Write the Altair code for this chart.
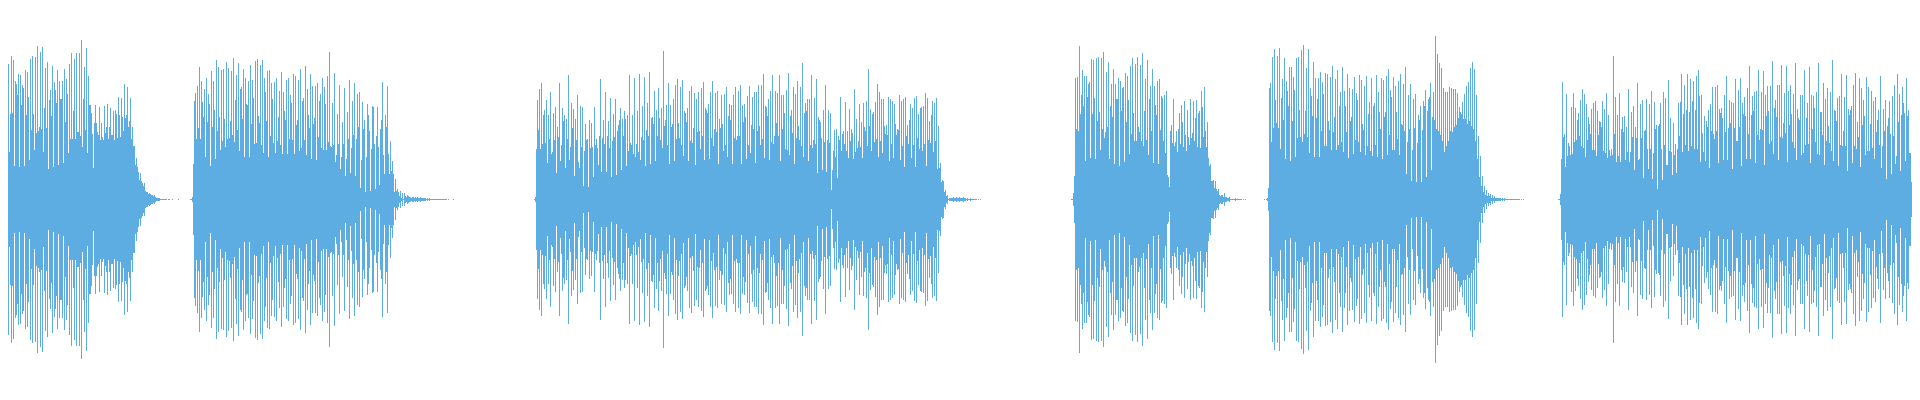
import altair as alt
import pandas as pd

# Half-height of the waveform, one value per pixel column.
starts = [0, 190, 534, 1071, 1264, 1558]

burst1 = [91,64,61,125,86,55,146,69,136,48,
86,144,87,140,34,119,116,105,126,33,
125,95,115,112,34,130,85,128,103,40,
141,70,144,86,50,143,67,154,69,73,
148,71,153,48,92,132,72,138,31,100,
110,84,134,33,118,110,97,130,35,119,
101,101,119,37,131,78,121,106,47,136,
61,147,61,89,141,61,147,68,68,147,
64,160,53,101,133,70,152,47,124,95,
95,87,66,32,77,95,77,68,65,93,
60,77,63,60,94,67,73,96,61,73,
92,65,65,89,60,90,86,62,103,85,
63,102,83,69,116,82,85,113,73,79,
102,61,73,54,54,35,42,33,28,20,
27,19,17,14,17,9,8,8,6,7,
6,5,5,4,5,3,2,2,2,2,
1,1,1,1,1,1,1,0,1,1,
0,0,1,0,0,0,0,0,1]

burst2 = [1,1,3,36,99,107,61,114,72,133,61,119,98,83,111,43,122,78,106,96,34,129,73,119,90,41,140,69,133,83,
50,130,59,131,81,53,138,61,132,62,79,129,65,142,58,100,125,70,137,49,111,113,81,131,43,122,96,95,119,43,
135,76,120,102,56,139,57,141,84,77,135,55,140,47,122,108,79,129,43,130,64,117,101,57,118,47,122,59,83,109,
55,128,46,108,89,80,120,46,122,61,105,97,60,126,46,124,75,80,120,49,131,52,99,102,60,134,45,111,85,72,
126,41,114,76,82,114,40,117,63,99,106,52,122,50,113,96,50,124,58,148,54,53,97,55,127,38,45,86,56,115,
31,43,78,56,112,24,41,88,61,120,27,52,99,65,117,24,61,106,73,108,12,40,98,71,80,8,43,96,85,69,
9,51,94,93,56,11,64,93,53,15,71,80,118,45,26,85,73,114,46,26,59,29,39,26,8,21,9,11,8,4,
9,2,7,1,7,4,3,5,4,3,3,2,3,3,2,3,2,3,2,2,3,2,2,2,2,2,1,2,1,2,
1,1,1,1,1,1,1,1,1,1,1,1,1,1,1,1,1,0,1,0,0,0,0,1]

burst3 = [1,3,51,100,70,111,51,117,56,85,90,57,100,37,85,61,108,46,48,87,60,93,27,73,63,117,39,55,92,79,
85,32,81,61,125,40,53,97,72,91,24,81,60,105,38,32,94,53,93,14,49,76,60,61,13,80,52,77,53,23,
93,55,61,52,35,64,121,28,62,80,56,108,28,64,79,52,102,23,59,86,63,101,25,69,75,80,92,30,81,64,
89,81,34,85,49,125,57,55,85,46,122,43,56,89,48,126,40,63,94,60,123,34,70,97,64,128,36,82,83,76,
109,39,90,64,112,82,60,92,52,149,74,80,95,55,117,36,95,73,76,101,39,115,61,121,77,62,113,55,120,44,
89,87,78,92,39,109,59,114,57,72,107,35,101,68,108,69,51,112,64,118,40,92,90,87,96,41,108,62,119,54,
71,107,68,109,36,81,72,105,76,49,106,55,113,43,84,96,80,95,36,105,62,113,60,64,109,64,115,36,95,78,
96,83,41,104,55,114,47,75,103,71,108,37,108,69,115,74,55,115,61,126,42,94,93,84,101,40,109,58,125,56,
64,109,77,107,64,125,39,105,71,105,87,51,110,50,127,45,84,90,67,113,36,106,62,119,74,60,113,54,137,43,
87,97,89,101,39,101,55,125,52,60,102,56,121,27,83,80,78,62,30,90,58,115,28,60,90,57,87,10,30,49,
70,43,71,22,64,60,103,49,66,69,56,98,49,69,42,91,59,71,67,41,111,48,81,52,59,96,53,78,42,97,
73,69,99,54,131,74,91,49,86,88,58,98,61,116,43,108,59,101,47,101,74,66,75,65,103,39,101,56,99,42,
96,76,65,71,70,105,40,99,54,101,33,103,64,75,56,80,96,42,92,55,102,33,104,62,86,51,92,93,49,94,
56,107,34,102,60,79,57,85,99,48,97,59,102,31,74,32,37,18,20,19,8,10,4,5,1,2,2,2,2,3,
2,2,3,2,2,3,2,2,2,3,2,2,1,2,1,1,2,1,1,1,1,1,1,0,1,0,1]

burst4 = [1,1,7,24,122,71,123,69,154,86,105,130,94,124,39,124,103,116,118,42,141,86,140,102,41,142,79,143,88,50,
142,71,148,62,68,128,73,138,41,94,116,83,131,36,116,101,101,122,34,119,89,112,113,38,127,78,124,100,46,134,
66,142,87,59,136,59,143,73,68,135,59,147,54,89,121,60,140,45,101,114,69,131,37,114,95,85,119,36,121,70,
104,102,59,105,47,109,25,23,13,69,75,57,101,54,58,69,48,71,87,56,95,78,53,99,65,49,90,63,55,101,
62,67,99,59,82,100,53,87,89,52,109,93,63,113,69,53,78,42,34,36,19,19,20,12,19,11,9,11,5,4,
5,5,3,7,3,3,2,2,3,1,1,1,1,1,2,1,1,1,1,1,1,0,1,0,1]

burst5 = [1,0,1,2,12,112,117,58,143,72,151,100,77,144,72,152,51,102,121,80,142,41,119,109,94,133,39,133,79,123,
110,43,142,62,143,90,63,150,58,155,66,89,132,63,151,47,112,104,84,138,43,122,82,101,122,43,128,69,118,106,
54,127,54,126,79,70,123,50,134,68,83,121,50,130,55,94,108,58,133,48,109,94,68,126,42,112,79,83,111,46,
123,60,107,100,58,125,48,120,76,70,114,45,124,54,86,98,49,122,44,94,97,55,125,43,108,88,71,122,41,120,
83,88,124,45,131,65,110,103,50,123,50,114,88,61,119,45,126,76,75,116,69,133,26,58,105,71,116,19,50,101,
72,106,18,57,85,80,94,18,70,99,94,110,23,89,101,103,117,30,83,108,80,164,71,146,69,137,65,132,59,112,
48,108,54,108,59,113,69,112,68,111,73,111,75,107,82,93,88,86,98,81,106,81,114,76,118,79,132,74,138,71,
131,59,105,41,64,23,44,14,24,8,14,5,10,4,7,4,6,2,5,2,4,2,2,2,2,2,2,1,2,1,
2,1,1,1,1,1,1,1,1,1,1,1,1,1,1,1,0,1,0,1]

burst6 = [1,1,6,41,118,63,66,33,106,44,57,54,45,93,46,107,58,92,60,80,87,64,100,54,111,52,106,43,96,60,
83,76,66,91,50,97,50,99,44,89,65,79,78,73,99,49,91,47,107,42,85,50,44,51,45,144,66,103,38,85,
44,107,38,71,83,68,84,40,73,48,111,38,48,88,63,94,30,73,62,117,40,41,96,62,100,22,69,70,101,51,
31,96,51,109,21,47,98,71,75,11,74,76,97,51,20,108,55,102,35,35,120,49,82,48,25,77,45,56,27,51,
97,64,98,126,48,86,115,55,90,126,49,88,121,54,99,119,51,90,124,51,130,104,38,105,67,48,84,39,79,73,
90,32,96,69,113,66,61,113,69,115,37,91,87,92,82,40,105,68,124,40,72,100,77,98,31,97,72,121,59,59,
110,73,122,34,97,86,103,84,41,112,66,134,41,85,104,89,108,37,109,65,130,60,71,108,70,129,35,105,84,114,
89,56,114,59,139,46,92,100,83,115,40,115,63,135,62,77,107,67,134,38,109,75,115,86,58,106,52,137,40,91,
82,80,105,45,105,47,130,55,82,97,56,133,37,105,71,104,92,58,108,46,137,45,88,88,65,117,35,101,59,112,
74,57,108,49,140,39,90,89,79,102,34,104,55,126,54,69,103,54,125,29,91,85,90,94,37,115,54,127,51,78,
63,122,33,112,75,100,84,45,123,49,113,49,76,109,52,99,41,103,68,80,90,55,124,32,54,91,69,100,21,74,
82,99,66,26,104,64,115,36,44,126,78,106,29,85,113,97,87,39,122,84,90,47,47,18,16,12,7,2,23,9,
18,11]

bursts = [burst1, burst2, burst3, burst4, burst5, burst6]

colour = "#5DADE2"

rows = []
for start, burst in zip(starts, bursts):
    for offset, half in enumerate(burst):
        if half > 0:
            rows.append({"col": start + offset + 0.5, "upper": half, "lower": 1 - half})
frame = pd.DataFrame(rows)

chart = (
    alt.Chart(frame)
    .mark_rule(color=colour, strokeWidth=1, opacity=1, strokeCap="butt")
    .encode(
        x=alt.X("col:Q", axis=None, scale=alt.Scale(domain=[0, 1920], range=[-8, 1912], nice=False, zero=False)),
        y=alt.Y("upper:Q", axis=None, scale=alt.Scale(domain=[-192, 192], nice=False, zero=False)),
        y2="lower:Q",
    )
    .properties(width=1904, height=384, padding=0, autosize=alt.AutoSizeParams(type="none"), background="white")
    .configure_view(stroke=None)
)

chart.save("out.html", embed_options={"renderer": "svg", "actions": False})
